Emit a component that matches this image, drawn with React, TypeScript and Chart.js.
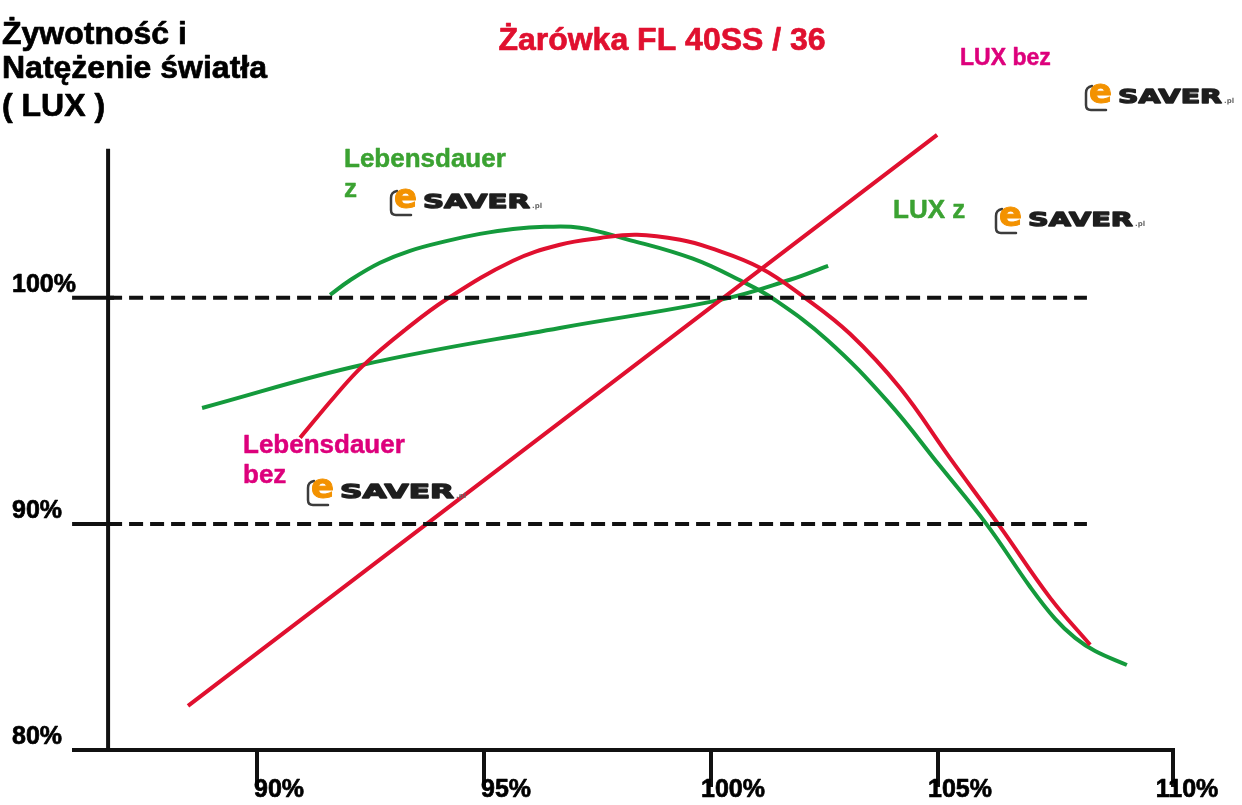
import React, { useEffect, useRef } from "react";
import { Chart, registerables } from "chart.js";

Chart.register(...registerables);

// ---- Text ----
const titleText = "Żarówka FL 40SS / 36";
const yTitleLines = ["Żywotność i", "Natężenie światła", "( LUX )"];
const labelLifeZ = ["Lebensdauer", "z"];
const labelLuxZ = ["LUX z"];
const labelLuxBez = ["LUX bez"];
const labelLifeBez = ["Lebensdauer", "bez"];

// ---- Axes ----
const xTickValues = [90, 95, 100, 105, 110];
const xTickLabels = ["90%", "95%", "100%", "105%", "110%"];
const yTickValues = [100, 90, 80];
const yTickLabels = ["100%", "90%", "80%"];
const xMin = 85.925;
const xMax = 110.22;
const yMin = 80;
const yMax = 108;
const yAxisX = 86.72;
const yAxisTop = 106.6;

// ---- Reference (dashed) levels ----
const refLevels = [100, 90];
const refStartX = 86.72;
const refEndX = 108.28;

// ---- Series ----
// LUX bez (red straight line)
const luxBezX = [88.48, 104.98];
const luxBezY = [81.95, 107.21];

// Lebensdauer bez (red curve)
const lifeBezX = [90.95, 91.72, 92.33, 93.26, 94.19, 95.64, 96.67, 97.56, 98.37, 99.32, 99.98, 101.08, 102.07, 103.06, 104.16, 105.26, 106.37, 107.47, 108.35];
const lifeBezY = [93.81, 95.66, 96.99, 98.58, 99.96, 101.64, 102.35, 102.65, 102.79, 102.57, 102.21, 101.33, 100.0, 98.41, 96.02, 92.92, 89.87, 86.73, 84.65];

// Lebensdauer z (green curve)
const lifeZX = [91.61, 92.05, 92.71, 93.37, 94.19, 94.91, 95.64, 96.34, 97.11, 98.15, 99.6, 100.7, 101.37, 102.56, 103.9, 105.04, 106.08, 107.03, 107.58, 108.02, 108.46, 109.16];
const lifeZY = [100.13, 100.78, 101.55, 102.08, 102.52, 102.83, 103.05, 103.14, 103.1, 102.59, 101.73, 100.71, 99.96, 98.14, 95.4, 92.57, 89.96, 87.21, 85.8, 84.96, 84.38, 83.76];

// LUX z (green line)
const luxZX = [88.79, 92.33, 96.67, 100.2, 101.74, 102.58];
const luxZY = [95.13, 97.04, 98.67, 99.91, 100.8, 101.42];

const RED = "#e0102f";
const GREEN = "#149a3c";
const GREEN_TEXT = "#3ba232";
const MAGENTA = "#dd007c";
const FONT = "'Liberation Sans', Arial, Helvetica, sans-serif";

const pts = (xs: number[], ys: number[]) => xs.map((x, i) => ({ x, y: ys[i] }));

function heavyText(ctx: CanvasRenderingContext2D, t: string, x: number, y: number, sw = 0.7) {
  ctx.fillText(t, x, y);
  ctx.lineWidth = sw;
  ctx.strokeStyle = ctx.fillStyle as string;
  ctx.strokeText(t, x, y);
}

function drawLogo(ctx: CanvasRenderingContext2D, ax: number, ay: number, w: number) {
  ctx.save();
  ctx.strokeStyle = "#3c3c3c";
  ctx.lineWidth = 2.5;
  ctx.lineCap = "round";
  ctx.beginPath();
  ctx.moveTo(ax + 7, ay + 3);
  ctx.quadraticCurveTo(ax + 1, ay + 4, ax + 1, ay + 10);
  ctx.lineTo(ax + 1, ay + 22);
  ctx.quadraticCurveTo(ax + 1, ay + 27, ax + 6, ay + 27);
  ctx.lineTo(ax + 21, ay + 27);
  ctx.stroke();

  ctx.textAlign = "left";
  ctx.textBaseline = "alphabetic";
  ctx.fillStyle = "#f39200";
  ctx.font = "bold 34px 'DejaVu Sans', sans-serif";
  heavyText(ctx, "e", ax + 4, ay + 20, 1);

  ctx.fillStyle = "#1e1e1e";
  ctx.font = "bold 19px 'DejaVu Sans', sans-serif";
  const mw = ctx.measureText("SAVER").width;
  ctx.save();
  ctx.translate(ax + 33, ay + 20);
  ctx.scale(w / mw, 1);
  heavyText(ctx, "SAVER", 0, 0, 1.3);
  ctx.restore();

  ctx.fillStyle = "#666";
  ctx.font = "bold 7px 'DejaVu Sans', sans-serif";
  ctx.fillText(".pl", ax + 35 + w, ay + 20);
  ctx.restore();
}

const decorPlugin = {
  id: "decor",
  beforeDatasetsDraw(chart: any) {
    const ctx: CanvasRenderingContext2D = chart.ctx;
    const xs = chart.scales.x;
    const ys = chart.scales.y;
    const area = chart.chartArea;
    ctx.save();
    ctx.strokeStyle = "#111";
    ctx.lineWidth = 4;
    ctx.lineCap = "butt";
    const x0 = xs.getPixelForValue(yAxisX);
    const yb = ys.getPixelForValue(yMin);
    ctx.beginPath();
    ctx.moveTo(x0, yb);
    ctx.lineTo(x0, ys.getPixelForValue(yAxisTop));
    ctx.stroke();
    ctx.beginPath();
    ctx.moveTo(area.left, yb);
    ctx.lineTo(area.right, yb);
    ctx.stroke();
    const last = xTickValues[xTickValues.length - 1];
    xTickValues.forEach((v) => {
      const px = v === last ? area.right - 2 : xs.getPixelForValue(v);
      ctx.beginPath();
      ctx.moveTo(px, yb);
      ctx.lineTo(px, yb + 37);
      ctx.stroke();
    });
    yTickValues.forEach((v) => {
      if (v === yMin) return;
      const py = ys.getPixelForValue(v);
      ctx.beginPath();
      ctx.moveTo(x0 - 36, py);
      ctx.lineTo(x0 + 6, py);
      ctx.stroke();
    });
    ctx.restore();
  },
  afterDatasetsDraw(chart: any) {
    const ctx: CanvasRenderingContext2D = chart.ctx;
    const xs = chart.scales.x;
    const ys = chart.scales.y;
    ctx.save();
    ctx.textAlign = "left";
    ctx.textBaseline = "alphabetic";
    ctx.lineJoin = "round";

    ctx.fillStyle = "#000";
    ctx.font = `bold 25px ${FONT}`;
    ctx.textAlign = "center";
    xTickValues.forEach((v, i) => {
      heavyText(ctx, xTickLabels[i], xs.getPixelForValue(v) + 22, 797);
    });
    ctx.textAlign = "left";
    yTickValues.forEach((v, i) => {
      heavyText(ctx, yTickLabels[i], 12, ys.getPixelForValue(v) - 6);
    });

    ctx.font = `bold 32px ${FONT}`;
    const yb = [44, 78, 116];
    yTitleLines.forEach((t, i) => heavyText(ctx, t, 2, yb[i]));

    ctx.fillStyle = RED;
    ctx.font = `bold 32px ${FONT}`;
    ctx.textAlign = "center";
    heavyText(ctx, titleText, 662, 50);
    ctx.textAlign = "left";

    ctx.fillStyle = GREEN_TEXT;
    ctx.font = `bold 26px ${FONT}`;
    heavyText(ctx, labelLifeZ[0], 344, 167, 0.5);
    heavyText(ctx, labelLifeZ[1], 344, 197, 0.5);
    heavyText(ctx, labelLuxZ[0], 893, 218, 0.5);

    ctx.fillStyle = MAGENTA;
    ctx.font = `bold 23px ${FONT}`;
    heavyText(ctx, labelLuxBez[0], 960, 65, 0.5);
    ctx.font = `bold 26px ${FONT}`;
    heavyText(ctx, labelLifeBez[0], 243, 453, 0.5);
    heavyText(ctx, labelLifeBez[1], 243, 483, 0.5);

    drawLogo(ctx, 390, 188, 107);
    drawLogo(ctx, 1085, 83, 104);
    drawLogo(ctx, 995, 206, 105);
    drawLogo(ctx, 307, 478, 114);
    ctx.restore();
  },
};

export default function App() {
  const ref = useRef<HTMLCanvasElement>(null);
  useEffect(() => {
    const refSets = refLevels.map((lvl) => ({
      label: `ref ${lvl}`,
      data: [
        { x: refStartX, y: lvl },
        { x: refEndX, y: lvl },
      ],
      borderColor: "#111",
      borderWidth: 4,
      borderDash: [14, 7],
      pointRadius: 0,
      fill: false,
    }));
    const curve = (label: string, xs: number[], ys: number[], color: string) => ({
      label,
      data: pts(xs, ys),
      borderColor: color,
      borderWidth: 4,
      pointRadius: 0,
      tension: 0.4,
    });
    const chart = new Chart(ref.current as HTMLCanvasElement, {
      type: "line",
      data: {
        datasets: [
          ...refSets,
          curve("LUX bez", luxBezX, luxBezY, RED),
          curve("Lebensdauer bez", lifeBezX, lifeBezY, RED),
          curve("Lebensdauer z", lifeZX, lifeZY, GREEN),
          curve("LUX z", luxZX, luxZY, GREEN),
        ] as any,
      },
      options: {
        animation: false,
        responsive: false,
        devicePixelRatio: 1,
        layout: { padding: { left: 72, right: 67, top: 117, bottom: 55 } },
        scales: {
          x: { type: "linear", min: xMin, max: xMax, display: false },
          y: { type: "linear", min: yMin, max: yMax, display: false },
        },
        plugins: {
          legend: { display: false },
          tooltip: { enabled: false },
          title: { display: false },
        },
        events: [],
      },
      plugins: [decorPlugin],
    });
    return () => chart.destroy();
  }, []);
  return (
    <div style={{ position: "fixed", left: 0, top: 0, width: 1242, height: 805, background: "#fff" }}>
      <canvas ref={ref} width={1242} height={805} style={{ display: "block" }} />
    </div>
  );
}
